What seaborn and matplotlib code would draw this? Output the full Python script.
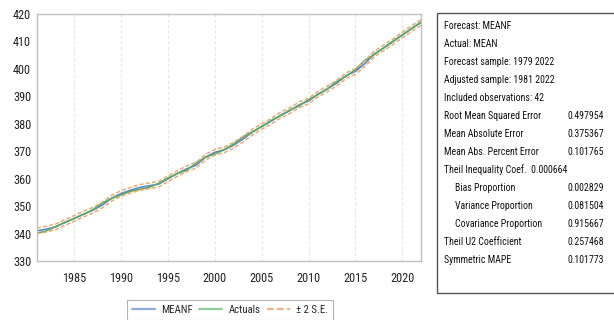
import numpy as np
import pandas as pd
import matplotlib
matplotlib.use("Agg")
import matplotlib.pyplot as plt
from matplotlib import font_manager as fm
import seaborn as sns
from matplotlib.patches import Rectangle

# ---- data ----
years = list(range(1981, 2023))
actuals = [340.1, 340.9, 342.5, 344.1, 345.5, 347.0, 348.7, 351.2, 352.8, 354.1,
           355.4, 356.1, 356.8, 358.3, 360.2, 361.9, 363.0, 365.7, 367.8, 369.0,
           370.6, 372.6, 375.2, 377.0, 379.0, 381.2, 382.9, 385.0, 386.5, 388.8,
           390.6, 392.7, 395.4, 397.3, 399.7, 403.1, 405.2, 407.6, 410.1, 412.4,
           414.7, 417.1]
meanf = [341.0, 341.6, 342.4, 344.0, 345.5, 347.1, 348.5, 350.4, 352.9, 354.6,
         355.8, 356.8, 357.4, 358.0, 359.9, 361.9, 363.6, 364.9, 367.8, 369.6,
         370.5, 372.2, 374.4, 377.0, 379.0, 380.9, 383.1, 384.8, 386.9, 388.3,
         390.8, 392.7, 394.8, 397.5, 399.1, 401.9, 405.4, 407.6, 409.9, 412.3,
         414.7, 416.9]
se = 0.52  # forecast standard error
upper = [v + 2 * se for v in meanf]
lower = [v - 2 * se for v in meanf]

x_ticks = [1985, 1990, 1995, 2000, 2005, 2010, 2015, 2020]
y_ticks = [330, 340, 350, 360, 370, 380, 390, 400, 410, 420]

stats_rows = [
    ("Forecast: MEANF", "", 0),
    ("Actual: MEAN", "", 0),
    ("Forecast sample: 1979 2022", "", 0),
    ("Adjusted sample: 1981 2022", "", 0),
    ("Included observations: 42", "", 0),
    ("Root Mean Squared Error", "0.497954", 0),
    ("Mean Absolute Error", "0.375367", 0),
    ("Mean Abs. Percent Error", "0.101765", 0),
    ("Theil Inequality Coef.  0.000664", "", 0),
    ("Bias Proportion", "0.002829", 1),
    ("Variance Proportion", "0.081504", 1),
    ("Covariance Proportion", "0.915667", 1),
    ("Theil U2 Coefficient", "0.257468", 0),
    ("Symmetric MAPE", "0.101773", 0),
]

# ---- styling ----
sns.set_theme(style="white")

# pick a narrow font if one is installed
names = {f.name for f in fm.fontManager.ttflist}
FAMILY = None
STRETCH = "normal"
for cand in ["Liberation Sans Narrow", "Roboto Condensed", "Open Sans Condensed",
             "Noto Sans Condensed", "DejaVu Sans Condensed"]:
    if cand in names:
        FAMILY = cand
        break
if FAMILY is None:
    if any(f.name == "DejaVu Sans" and f.stretch not in ("normal", 500)
           for f in fm.fontManager.ttflist):
        FAMILY = "DejaVu Sans"
        STRETCH = "condensed"
    else:
        FAMILY = "Liberation Sans"
plt.rcParams["font.family"] = [FAMILY, "DejaVu Sans"]
plt.rcParams["font.stretch"] = STRETCH

C_BLUE = "#5b87c7"
C_GREEN = "#5daa68"
C_ORANGE = "#f0a468"

df = pd.DataFrame({"year": years, "MEANF": meanf, "Actuals": actuals,
                   "upper": upper, "lower": lower})

fig = plt.figure(figsize=(6.14, 3.2), dpi=100)
renderer = fig.canvas.get_renderer()


def fit_size(text, target_px, base=10.0):
    t = fig.text(0, 0, text, fontsize=base)
    w = t.get_window_extent(renderer=renderer).width
    t.remove()
    return base * target_px / w


tick_fs = min(9.0, fit_size("1985", 24))
stat_fs = min(8.8, fit_size("Root Mean Squared Error", 97))
leg_fs = min(9.0, fit_size("Actuals", 32))

ax = fig.add_axes([36.7 / 614, 1 - 261 / 320, (421 - 36.7) / 614, (261 - 14) / 320])

sns.lineplot(data=df, x="year", y="MEANF", ax=ax, color=C_BLUE, lw=1.2, label="MEANF")
sns.lineplot(data=df, x="year", y="Actuals", ax=ax, color=C_GREEN, lw=1.2, label="Actuals")
sns.lineplot(data=df, x="year", y="upper", ax=ax, color=C_ORANGE, lw=1.0,
             linestyle=(0, (3, 1.5)), label="± 2 S.E.")
sns.lineplot(data=df, x="year", y="lower", ax=ax, color=C_ORANGE, lw=1.0,
             linestyle=(0, (3, 1.5)), label="_nolegend_")

ax.set_xlim(1981, 2022)
ax.set_ylim(330, 420)
ax.set_xticks(x_ticks)
ax.set_yticks(y_ticks)
ax.set_xlabel("")
ax.set_ylabel("")
ax.tick_params(axis="both", length=0, labelsize=tick_fs, colors="#222222", pad=4)
ax.tick_params(axis="x", pad=8)
for s in ax.spines.values():
    s.set_color("#c0c0c0")
    s.set_linewidth(1.0)
for xt in x_ticks:
    ax.axvline(xt, color="#e6e6e6", lw=0.8, ls=(0, (3, 2)), zorder=0)

leg = ax.legend(loc="upper center", bbox_to_anchor=(230 / 614, 1 - 300 / 320),
                bbox_transform=fig.transFigure, ncol=3, frameon=True, fancybox=False,
                fontsize=leg_fs, handlelength=2.1, columnspacing=0.6, handletextpad=0.6,
                borderpad=0.45, borderaxespad=0)
leg.get_frame().set_edgecolor("#a0a0a0")
leg.get_frame().set_linewidth(0.8)
leg_colors = ["#8eaadb", "#8fcf9c", "#f4b183"]
for h, c in zip(leg.get_lines(), leg_colors):
    h.set_color(c)
    h.set_linewidth(1.6)

# ---- stats box (right edge runs off the image) ----
fig.patches.append(Rectangle((437 / 614, 1 - 293 / 320), (640 - 437) / 614, (293 - 12.7) / 320,
                             transform=fig.transFigure, fill=False, edgecolor="#555555",
                             lw=1.0, clip_on=False))
y0 = 26
dy = 18.0
for i, (lab, val, ind) in enumerate(stats_rows):
    y = 1 - (y0 + i * dy) / 320
    xl = (455 if ind else 444) / 614
    fig.text(xl, y, lab, fontsize=stat_fs, va="center", ha="left", color="#111111")
    if val:
        fig.text(568 / 614, y, val, fontsize=stat_fs, va="center", ha="left", color="#111111")

fig.savefig("out.png", dpi=100)
